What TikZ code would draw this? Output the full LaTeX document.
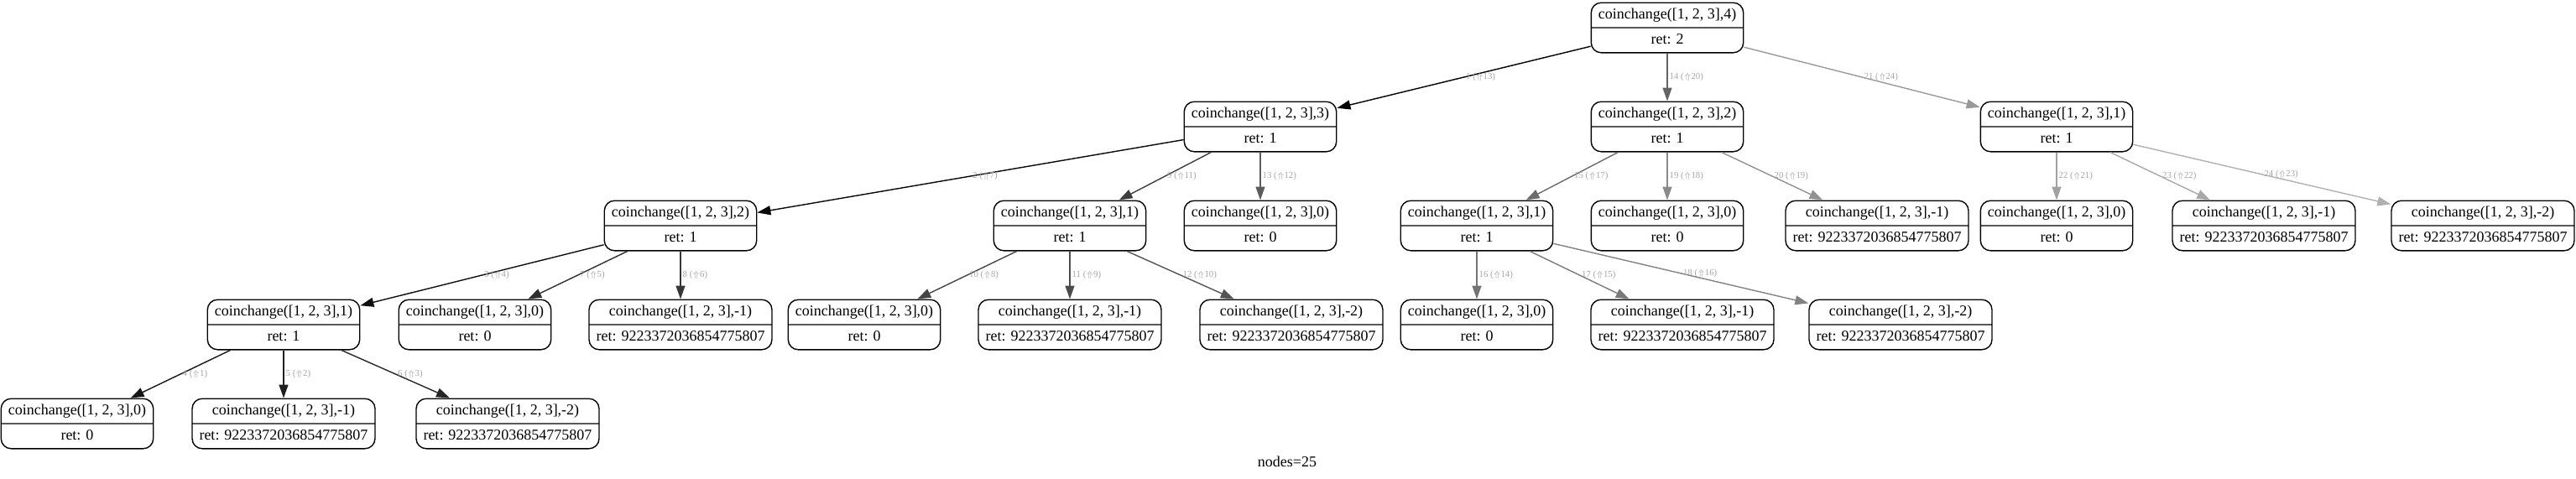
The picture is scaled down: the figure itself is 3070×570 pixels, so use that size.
\documentclass[tikz,border=0pt]{standalone}
\usepackage{fontspec}
\setmainfont{Liberation Serif}
\usetikzlibrary{arrows.meta,shapes.multipart}
\newcommand{\maxret}{9223372036854775807}
\newcommand{\cc}[2]{\strut coinchange([1, 2, 3],#1)\nodepart{two}\strut ret: #2}
\tikzset{
  call/.style={rectangle split,rectangle split parts=2,draw,line width=0.7pt,
    rounded corners=6pt,inner xsep=4.25pt,inner ysep=1.6pt,
    font=\fontsize{9}{11}\selectfont},
  callarrow/.style={-{Triangle[length=8pt,width=5.5pt]},line width=0.7pt},
  elab/.style={midway,right,inner sep=1pt,text=black!35,
    font=\fontsize{5.4}{6}\selectfont}
}

\begin{document}
\begin{tikzpicture}[x=0.5pt,y=-0.5pt]
  \useasboundingbox (0,0) rectangle (3070,570);
  % recursion tree, node n<k> is reached by call number k
  \node[call] (n0) at (1987,33) {\cc{4}{2}};
  \node[call] (n1) at (1502,151) {\cc{3}{1}};
  \node[call] (n14) at (1987,151) {\cc{2}{1}};
  \node[call] (n21) at (2451,151) {\cc{1}{1}};
  \node[call] (n2) at (811,269) {\cc{2}{1}};
  \node[call] (n9) at (1275,269) {\cc{1}{1}};
  \node[call] (n13) at (1502,269) {\cc{0}{0}};
  \node[call] (n15) at (1760,269) {\cc{1}{1}};
  \node[call] (n19) at (1987,269) {\cc{0}{0}};
  \node[call] (n20) at (2237,269) {\cc{-1}{\maxret}};
  \node[call] (n22) at (2451,269) {\cc{0}{0}};
  \node[call] (n23) at (2698,269) {\cc{-1}{\maxret}};
  \node[call] (n24) at (2959,269) {\cc{-2}{\maxret}};
  \node[call] (n3) at (338,387) {\cc{1}{1}};
  \node[call] (n7) at (566,387) {\cc{0}{0}};
  \node[call] (n8) at (811,387) {\cc{-1}{\maxret}};
  \node[call] (n10) at (1030,387) {\cc{0}{0}};
  \node[call] (n11) at (1275,387) {\cc{-1}{\maxret}};
  \node[call] (n12) at (1539,387) {\cc{-2}{\maxret}};
  \node[call] (n16) at (1760,387) {\cc{0}{0}};
  \node[call] (n17) at (2005,387) {\cc{-1}{\maxret}};
  \node[call] (n18) at (2265,387) {\cc{-2}{\maxret}};
  \node[call] (n4) at (92,505) {\cc{0}{0}};
  \node[call] (n5) at (338,505) {\cc{-1}{\maxret}};
  \node[call] (n6) at (605,505) {\cc{-2}{\maxret}};
  % parent / call number / return number; later calls fade to grey
  \foreach \p/\k/\r in {0/1/13,1/2/7,2/3/4,3/4/1,3/5/2,3/6/3,2/7/5,2/8/6,
      1/9/11,9/10/8,9/11/9,9/12/10,1/13/12,0/14/20,14/15/17,15/16/14,
      15/17/15,15/18/16,14/19/18,14/20/19,0/21/24,21/22/21,21/23/22,21/24/23}{
    \pgfmathtruncatemacro\shade{100-3*(\k-1)}
    \draw[callarrow,color=black!\shade] (n\p) -- (n\k)
      node[elab] {\k\ ($\Uparrow$\r)};
  }
  \node[font=\fontsize{9}{11}\selectfont] (total) at (1534,550) {nodes=25};
\end{tikzpicture}
\end{document}
